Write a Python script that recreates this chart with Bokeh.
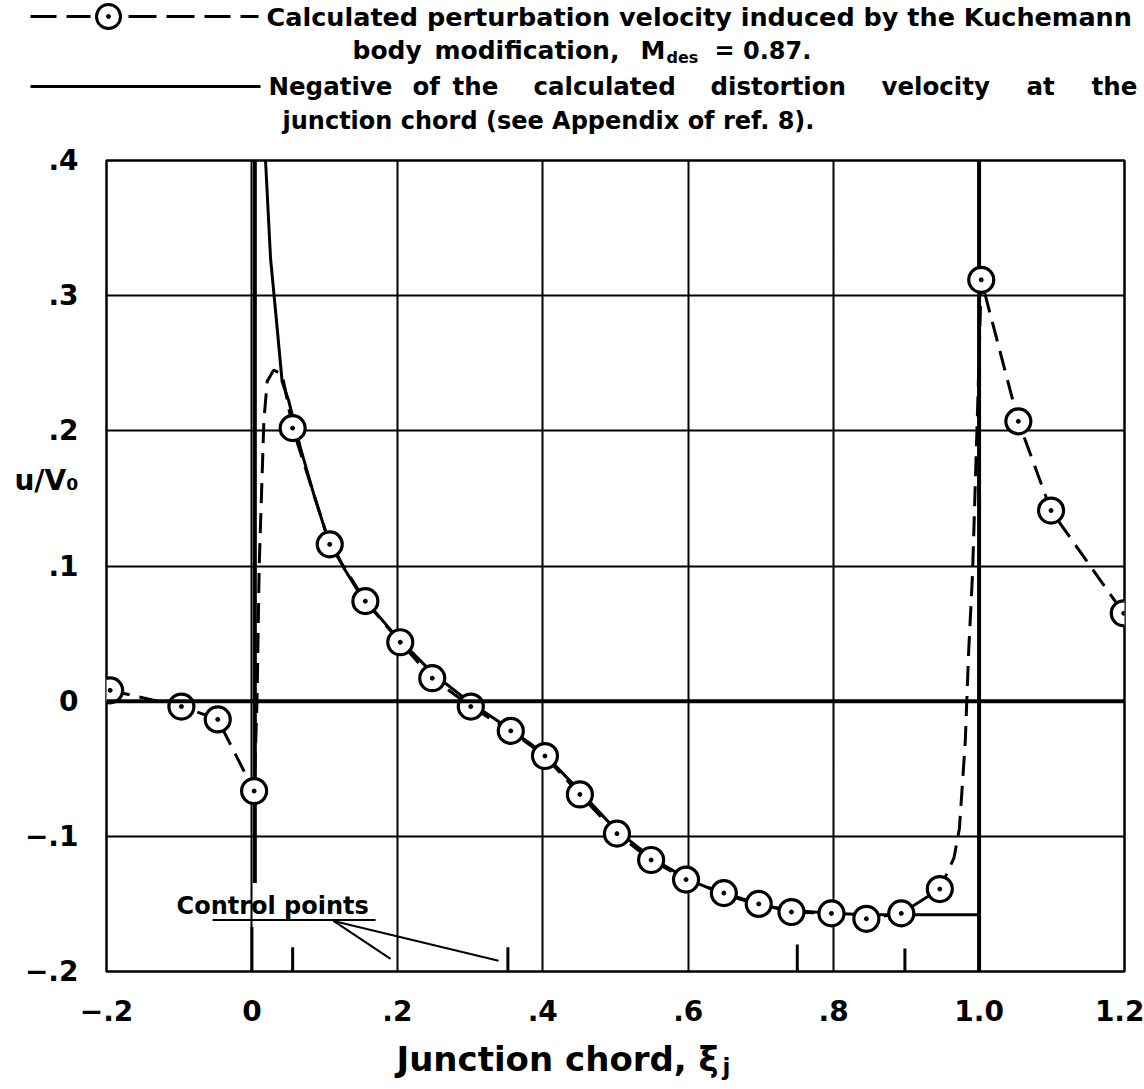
from bokeh.plotting import figure
from bokeh.layouts import column, row
from bokeh.models import Range1d, FixedTicker, Span
from bokeh.core.properties import value
from bokeh.embed import file_html
from bokeh.resources import INLINE

# ---------------- data ----------------
# Kuchemann body modification, perturbation velocity (circles)
kuch_x = [-0.195, -0.097, -0.047, 0.003, 0.056, 0.107, 0.156, 0.204, 0.248,
          0.301, 0.356, 0.403, 0.451, 0.502, 0.549, 0.597, 0.649, 0.697,
          0.742, 0.797, 0.845, 0.893, 0.946, 1.003, 1.054, 1.099, 1.199]
kuch_y = [0.008, -0.004, -0.0135, -0.0665, 0.202, 0.116, 0.074, 0.0436, 0.017,
          -0.004, -0.022, -0.0406, -0.069, -0.098, -0.1175, -0.132, -0.142, -0.150,
          -0.156, -0.157, -0.161, -0.157, -0.139, 0.3117, 0.207, 0.141, 0.065]

# dashed fairing curve through the circles (includes un-marked curve points)
dash_x = [-0.195, -0.097, -0.047, 0.003, 0.007, 0.010, 0.0164, 0.021, 0.030, 0.0417,
          0.056, 0.107, 0.156, 0.204, 0.248, 0.301, 0.356, 0.403, 0.451, 0.502,
          0.549, 0.597, 0.649, 0.697, 0.742, 0.797, 0.845, 0.893, 0.946, 0.9655,
          0.973, 0.981, 0.9857, 0.991, 0.998, 1.003, 1.054, 1.099, 1.199]
dash_y = [0.008, -0.004, -0.0135, -0.0665, 0.0, 0.10, 0.207, 0.2367, 0.245, 0.2417,
          0.202, 0.116, 0.074, 0.0436, 0.017, -0.004, -0.022, -0.0406, -0.069, -0.098,
          -0.1175, -0.132, -0.142, -0.150, -0.156, -0.157, -0.161, -0.157, -0.139, -0.116,
          -0.094, -0.03, 0.037, 0.094, 0.217, 0.3117, 0.207, 0.141, 0.065]

# negative of calculated distortion velocity at junction chord (solid)
solid_x = [0.0187, 0.0256, 0.034, 0.0415, 0.0507, 0.0669, 0.0852, 0.1012, 0.1264,
           0.149, 0.20, 0.25, 0.30, 0.35, 0.40, 0.45, 0.50, 0.55, 0.60, 0.65,
           0.70, 0.75, 0.80, 0.85, 0.90, 1.00]
solid_y = [0.40, 0.3276, 0.28, 0.2365, 0.222, 0.187, 0.1528, 0.1257, 0.0985,
           0.0788, 0.047, 0.020, -0.001, -0.019, -0.038, -0.066, -0.095, -0.116, -0.132, -0.143,
           -0.151, -0.155, -0.157, -0.158, -0.158, -0.158]

# junction-chord end lines
junction_x = [0.004, 1.0]
junction_top = [0.4, 0.4]
junction_bottom = [-0.1345, -0.2]

# control points (short marks on bottom edge)
control_x = [0.0, 0.056, 0.352, 0.75, 0.898]
control_top = [-0.167, -0.182, -0.182, -0.180, -0.183]
control_bottom = [-0.2, -0.2, -0.2, -0.2, -0.2]

# "Control points" note
note_text = ["Control points"]
note_x = [-0.1037]
note_y = [-0.1515]
underline_x = [-0.0542, 0.170]
underline_y = [-0.1619, -0.1619]
leader_x0 = [0.1122, 0.1122]
leader_y0 = [-0.1626, -0.1626]
leader_x1 = [0.1907, 0.3392]
leader_y1 = [-0.1907, -0.1920]

x_ticks = [-0.2, 0.0, 0.2, 0.4, 0.6, 0.8, 1.0, 1.2]
x_tick_labels = ["\u2212.2", "0", ".2", ".4", ".6", ".8", "1.0", "1.2"]
y_ticks = [-0.2, -0.1, 0.0, 0.1, 0.2, 0.3, 0.4]
y_tick_labels = ["\u2212.2", "\u2212.1", "0", ".1", ".2", ".3", ".4"]
y_title_pos = 0.163
y_title = "u/V\u2080"

FONT = "DejaVu Sans"
INK = "#000000"


def txt(fig, x, y, s, size, align="left"):
    fig.text(x=[x], y=[y], text=[s], text_font=value(FONT), text_font_style="bold",
             text_font_size=size, text_baseline="middle", text_align=align, text_color=INK)


# ---------------- legend block (top) ----------------
LH = 140
leg = figure(width=1144, height=LH, x_range=Range1d(0, 1144), y_range=Range1d(LH, 0),
             toolbar_location=None, output_backend="svg", min_border=0,
             x_axis_location=None, y_axis_location=None)
leg.grid.visible = False
leg.outline_line_color = None

# dashed sample with circle
leg.segment(x0=[30, 66, 128, 166, 204, 240], y0=[16] * 6,
            x1=[56, 90, 156, 194, 230, 258], y1=[16] * 6,
            line_color=INK, line_width=3)
leg.scatter(x=[108], y=[16], size=24, marker="circle", fill_color="white",
            line_color=INK, line_width=3)
leg.scatter(x=[108], y=[16], size=4, marker="circle", fill_color=INK, line_color=INK)
txt(leg, 266, 16, "Calculated perturbation velocity induced by the Kuchemann", "25.5px")
txt(leg, 352, 50, "body", "25px")
txt(leg, 434, 50, "modification,", "25px")
txt(leg, 640, 50, "M", "25px")
txt(leg, 666, 57, "des", "16px")
txt(leg, 714, 50, "= 0.87.", "24px")
# solid sample
leg.segment(x0=[30], y0=[86], x1=[260], y1=[86], line_color=INK, line_width=3)
for wx, w in zip([268, 412, 452, 533, 710, 881, 1026, 1091],
                 ["Negative", "of", "the", "calculated", "distortion", "velocity", "at", "the"]):
    txt(leg, wx, 86, w, "24.5px")
txt(leg, 282, 120, "junction chord  (see Appendix of ref. 8).", "24px")

# ---------------- main chart ----------------
MH = 891
p = figure(width=1144, height=MH, x_range=Range1d(-0.2, 1.2), y_range=Range1d(-0.2, 0.4),
           toolbar_location=None, output_backend="svg",
           min_border_left=106, min_border_right=20, min_border_top=20, min_border_bottom=60)
p.outline_line_color = INK
p.outline_line_width = 2.5

yt = y_ticks + [y_title_pos]
yl = y_tick_labels + [y_title]
for ax, ticks, labels in ((p.xaxis[0], x_ticks, x_tick_labels), (p.yaxis[0], yt, yl)):
    ax.ticker = FixedTicker(ticks=ticks)
    ax.major_label_overrides = {t: l for t, l in zip(ticks, labels)}
    ax.axis_line_color = None
    ax.major_tick_line_color = None
    ax.minor_tick_line_color = None
    ax.major_label_text_font = FONT
    ax.major_label_text_font_style = "bold"
    ax.major_label_text_font_size = "28px"
    ax.major_label_text_color = INK
    ax.major_label_standoff = 22

p.xgrid.ticker = FixedTicker(ticks=x_ticks)
p.ygrid.ticker = FixedTicker(ticks=y_ticks)
for g in (p.xgrid, p.ygrid):
    g.grid_line_color = INK
    g.grid_line_width = 2
    g.grid_line_alpha = 1.0

# heavy zero line
p.add_layout(Span(location=0.0, dimension="width", line_color=INK, line_width=4))

# junction-chord end lines
p.segment(x0=junction_x, y0=junction_top, x1=junction_x, y1=junction_bottom,
          line_color=INK, line_width=4)

# control point marks
p.segment(x0=control_x, y0=control_top, x1=control_x, y1=control_bottom,
          line_color=INK, line_width=3)

# solid curve
p.line(solid_x, solid_y, line_color=INK, line_width=3)

# dashed curve
p.line(dash_x, dash_y, line_color=INK, line_width=3, line_dash="20 10")

# circles with center dots
p.scatter(kuch_x, kuch_y, size=25, marker="circle", fill_color="white",
          line_color=INK, line_width=3.2)
p.scatter(kuch_x, kuch_y, size=4, marker="circle", fill_color=INK, line_color=INK)

# Control points note
p.text(x=note_x, y=note_y, text=note_text, text_font=value(FONT), text_font_style="bold",
       text_font_size="24px", text_baseline="middle", text_align="left", text_color=INK)
p.line(underline_x, underline_y, line_color=INK, line_width=2)
p.segment(x0=leader_x0, y0=leader_y0, x1=leader_x1, y1=leader_y1, line_color=INK, line_width=2)

# ---------------- x-axis title (bottom) ----------------
BH = 1089 - LH - MH
bot = figure(width=1144, height=BH, x_range=Range1d(0, 1144), y_range=Range1d(BH, 0),
             toolbar_location=None, output_backend="svg", min_border=0,
             x_axis_location=None, y_axis_location=None)
bot.grid.visible = False
bot.outline_line_color = None
txt(bot, 396, 27, "Junction chord, \u03be", "34px")
txt(bot, 722, 35, "j", "23px")

layout = column(row(leg), p, row(bot), spacing=0)
open("out.html", "w").write(file_html(layout, INLINE))
